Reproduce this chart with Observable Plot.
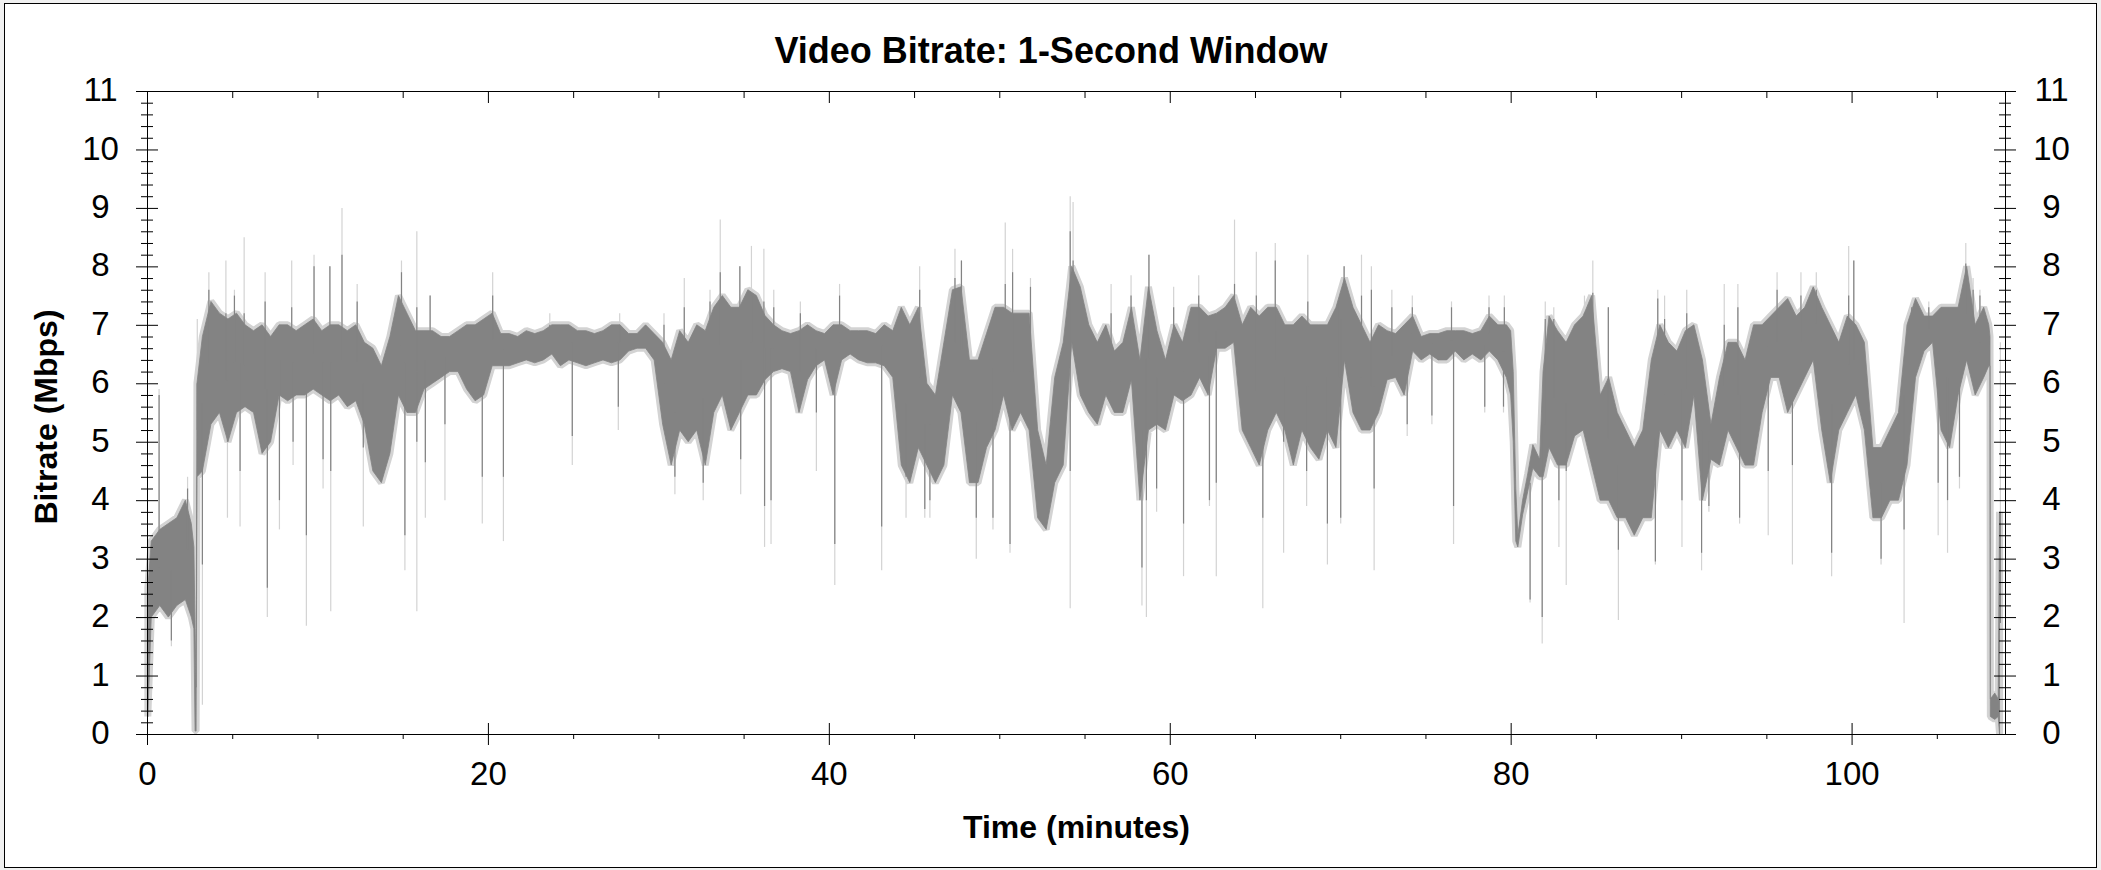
<!DOCTYPE html>
<html><head><meta charset="utf-8">
<script src="https://cdn.jsdelivr.net/npm/d3@7"></script>
<script src="https://cdn.jsdelivr.net/npm/@observablehq/plot@0.6"></script>
<style>
html,body{margin:0;padding:0;background:#f0f0f0;width:2101px;height:870px;overflow:hidden;}
#box{position:absolute;left:4px;top:3px;width:2093px;height:865px;box-sizing:border-box;border:1px solid #000;background:#fff;}
#chart{position:absolute;left:0;top:0;}
</style></head><body><div id="box"></div><div id="chart"></div>
<script>
// ---- data (time in minutes, bitrate in Mbps) ----
const bandT = [0.05,0.25,0.75,1.25,1.75,2.25,2.6,2.75,2.82,2.88,2.93,3.25,3.75,4.25,4.75,5.25,5.75,6.25,6.75,7.25,7.75,8.25,8.75,9.25,9.75,10.25,10.75,11.25,11.75,12.25,12.75,13.25,13.75,14.25,14.75,15.25,15.75,16.25,16.75,17.25,17.75,18.25,18.75,19.25,19.75,20.25,20.75,21.25,21.75,22.25,22.75,23.25,23.75,24.25,24.75,25.25,25.75,26.25,26.75,27.25,27.75,28.25,28.75,29.25,29.75,30.25,30.75,31.25,31.75,32.25,32.75,33.25,33.75,34.25,34.75,35.25,35.75,36.25,36.75,37.25,37.75,38.25,38.75,39.25,39.75,40.25,40.75,41.25,41.75,42.25,42.75,43.25,43.75,44.25,44.75,45.25,45.75,46.25,46.75,47.25,47.75,48.25,48.75,49.25,49.75,50.25,50.75,51.25,51.75,52.25,52.75,53.25,53.75,54.25,54.75,55.25,55.75,56.25,56.75,57.25,57.75,58.25,58.75,59.25,59.75,60.25,60.75,61.25,61.75,62.25,62.75,63.25,63.75,64.25,64.75,65.25,65.75,66.25,66.75,67.25,67.75,68.25,68.75,69.25,69.75,70.25,70.75,71.25,71.75,72.25,72.75,73.25,73.75,74.25,74.75,75.25,75.75,76.25,76.75,77.25,77.75,78.25,78.75,79.25,79.75,80.0,80.15,80.3,80.42,80.7,81.0,81.3,81.7,81.9,82.25,82.75,83.25,83.75,84.25,84.75,85.25,85.75,86.25,86.75,87.25,87.75,88.25,88.75,89.25,89.75,90.25,90.75,91.25,91.75,92.25,92.75,93.25,93.75,94.25,94.75,95.25,95.75,96.25,96.75,97.25,97.75,98.25,98.75,99.25,99.75,100.25,100.75,101.25,101.75,102.25,102.75,103.25,103.75,104.25,104.75,105.25,105.75,106.25,106.75,107.25,107.75,108.05,108.12,108.14,108.4,108.6,108.68];
const bandLo = [0.3,2.0,2.2,2.0,2.2,2.3,2.0,1.8,0.05,0.05,4.4,4.5,5.3,5.5,5.0,5.5,5.6,5.5,4.8,5.0,5.8,5.7,5.8,5.8,5.9,5.8,5.7,5.8,5.6,5.7,5.3,4.5,4.3,4.8,5.8,5.5,5.5,5.9,6.0,6.1,6.2,6.2,5.9,5.7,5.8,6.3,6.3,6.3,6.35,6.4,6.35,6.4,6.5,6.3,6.4,6.35,6.3,6.35,6.4,6.35,6.4,6.55,6.6,6.6,6.4,5.3,4.6,5.2,5.0,5.2,4.6,5.5,5.8,5.2,5.5,5.8,5.8,6.06,6.2,6.25,6.2,5.5,6.06,6.3,6.4,5.8,6.4,6.5,6.4,6.35,6.35,6.3,6.1,4.6,4.3,4.9,4.6,4.3,4.6,5.8,5.5,4.3,4.3,4.9,5.2,5.8,5.2,5.5,5.2,3.7,3.5,4.3,4.6,6.7,5.8,5.5,5.3,5.8,5.5,5.5,6.06,4.0,5.2,5.3,5.2,5.8,5.7,5.8,6.1,5.8,6.6,6.6,6.7,5.2,4.9,4.6,5.2,5.5,5.2,4.6,5.2,4.9,4.7,5.2,4.9,6.4,5.5,5.2,5.2,5.5,6.06,6.1,5.8,6.55,6.4,6.5,6.4,6.4,6.55,6.4,6.5,6.4,6.55,6.4,6.1,5.8,5.0,3.3,3.2,3.75,4.15,4.55,4.4,4.4,4.9,4.6,4.6,5.1,5.2,4.6,4.0,4.0,3.7,3.7,3.4,3.7,3.7,5.2,4.9,5.2,4.9,5.8,4.0,4.7,4.6,5.2,4.9,4.6,4.6,5.5,6.1,6.1,5.5,5.8,6.1,6.4,5.2,4.3,5.2,5.5,5.8,5.2,3.7,3.7,4.0,4.0,4.6,6.1,6.55,6.7,5.2,4.9,5.8,6.4,5.8,6.1,6.3,6.3,0.3,0.25,0.3,0.0];
const bandHi = [2.5,3.3,3.5,3.6,3.7,4.0,3.6,3.2,1.8,0.8,6.0,6.8,7.4,7.2,7.1,7.2,7.0,6.9,7.0,6.8,7.0,7.0,6.9,7.0,7.1,6.9,7.0,7.0,6.9,7.0,6.7,6.6,6.3,6.8,7.5,7.2,6.9,6.9,6.9,6.8,6.8,6.9,7.0,7.0,7.1,7.2,6.85,6.85,6.8,6.9,6.85,6.9,7.0,7.0,7.0,6.9,6.9,6.85,6.9,7.0,7.0,6.85,6.85,7.0,6.85,6.7,6.4,6.9,6.7,7.0,6.9,7.3,7.5,7.3,7.3,7.6,7.5,7.16,7.0,6.9,6.85,6.9,7.0,6.9,6.85,7.0,7.0,6.9,6.9,6.9,6.85,7.0,6.9,7.3,7.0,7.3,6.0,5.8,6.7,7.6,7.65,6.4,6.4,6.85,7.3,7.3,7.2,7.2,7.2,5.2,4.6,6.1,6.7,8.0,7.65,7.0,6.7,7.0,6.55,6.7,7.3,6.4,7.65,6.9,6.4,7.0,6.7,7.3,7.3,7.15,7.2,7.3,7.5,7.0,7.3,7.15,7.3,7.3,7.0,7.0,7.15,7.0,7.0,7.0,7.3,7.8,7.3,7.0,6.7,7.0,6.9,6.85,7.0,7.15,6.8,6.85,6.85,6.9,6.9,6.9,6.85,6.9,7.15,7.0,7.0,6.9,6.2,4.2,3.4,4.0,4.45,4.95,4.7,6.2,7.15,6.9,6.7,7.0,7.15,7.5,5.8,6.1,5.5,5.2,4.9,5.2,6.4,7.0,6.7,6.55,6.9,7.0,6.4,5.3,6.1,6.7,6.7,6.4,7.0,7.0,7.15,7.3,7.45,7.15,7.3,7.65,7.3,7.0,6.7,7.15,7.0,6.7,4.9,4.9,5.2,5.5,7.0,7.45,7.15,7.15,7.3,7.3,7.3,8.0,7.0,7.3,7.0,6.8,0.6,0.7,0.6,3.8];

// isolated spikes: time, end of dark part, end of light part
const upT     = [0.68,2.35,2.92,3.6,4.6,5.1,5.67,6.9,8.46,9.77,10.7,11.41,12.3,14.9,15.8,16.58,20.25,23.6,27.7,30.3,31.49,33.0,33.6,34.75,35.43,36.16,36.74,38.3,40.6,45.3,47.37,47.75,50.32,50.75,51.8,54.13,54.3,56.53,57.7,58.75,60.2,61.67,63.77,65.05,66.16,68.07,69.9,70.2,71.22,71.8,73.0,74.2,76.5,78.7,79.6,82.0,82.5,84.3,84.79,85.7,88.6,89.0,90.3,92.5,93.3,95.6,97.0,97.9,99.8,100.1,103.5,104.5,106.67,107.1,107.5,108.7];
const upDark  = [5.8,4.2,6.0,7.6,7.2,7.5,7.2,7.4,7.3,8.0,8.0,8.2,7.4,7.9,7.3,7.5,7.5,7.0,7.0,7.0,7.3,7.4,7.9,8.0,7.5,7.4,7.3,7.2,7.5,7.6,7.8,8.1,7.7,7.9,7.65,8.6,8.1,7.2,7.5,8.2,7.3,7.5,7.7,7.5,8.1,7.4,7.4,8.0,7.5,7.6,7.3,7.3,7.3,7.3,7.3,7.1,7.1,7.2,7.55,7.3,7.45,7.1,7.2,7.0,7.3,7.6,7.5,7.6,7.5,8.1,7.3,7.3,8.05,7.6,7.5,3.8];
const upLight = [5.9,4.4,7.1,7.9,8.1,7.6,8.5,7.9,8.1,8.2,8.0,9.0,7.7,8.1,8.6,7.5,7.9,7.2,7.2,7.2,7.8,7.6,8.8,8.0,8.35,8.3,7.6,7.4,7.7,8.0,8.3,8.1,8.75,8.3,7.8,9.2,9.1,7.7,7.85,8.2,7.65,7.85,8.8,8.25,8.4,8.2,7.5,8.0,8.2,8.0,7.6,7.5,7.4,7.5,7.5,7.4,7.3,7.5,8.1,7.3,7.6,7.5,7.6,7.7,7.7,7.9,7.9,7.9,8.35,8.1,7.4,7.4,8.4,7.8,7.6,6.7];
const downT     = [1.4,3.22,4.69,5.43,7.03,7.74,8.54,9.32,10.3,10.75,12.66,15.1,15.8,16.3,17.45,19.64,20.88,24.92,27.62,30.94,32.6,34.8,36.2,36.58,39.24,40.32,43.07,44.5,45.6,45.9,48.62,49.6,50.6,54.13,58.34,58.6,59.2,60.78,62.3,62.7,65.43,66.65,68.0,69.22,70.0,71.96,73.9,75.35,76.62,78.45,79.55,81.11,81.82,82.8,83.23,86.29,88.46,90.02,91.17,91.6,93.4,95.08,96.5,98.8,101.7,103.05,105.05,105.6,106.3];
const downDark  = [1.6,2.9,5.0,4.5,2.5,4.0,5.0,3.4,4.7,4.5,4.9,3.4,5.0,4.65,5.3,4.4,4.4,5.1,5.6,4.4,4.3,4.7,3.9,4.0,5.5,3.25,3.55,4.4,3.85,4.0,3.7,3.7,3.25,4.5,2.85,4.0,4.2,3.6,4.0,4.3,3.7,5.0,4.5,3.6,3.7,4.2,5.3,5.45,3.9,5.6,5.6,2.3,2.0,4.0,4.5,3.15,2.95,4.0,3.1,3.9,3.7,4.5,4.6,3.1,3.0,3.5,4.3,4.0,4.4];
const downLight = [1.5,0.5,3.7,3.55,2.0,3.5,4.6,1.85,4.2,2.1,3.55,2.8,2.1,3.7,4.0,3.6,3.3,4.6,5.2,4.1,4.0,4.1,3.2,3.25,4.5,2.55,2.8,3.7,3.7,3.7,3.0,3.5,3.1,2.15,2.2,2.0,3.8,2.7,3.9,2.7,2.15,3.1,3.9,2.9,3.6,2.8,5.1,5.3,3.25,5.5,5.5,2.25,1.55,3.2,2.55,1.95,2.9,3.2,2.8,3.8,3.6,3.4,2.9,2.7,2.9,1.9,3.4,3.1,4.2];

// axis ticks and labels
const xMajor = [0, 20, 40, 60, 80, 100];
const xMinor = [5, 10, 15, 25, 30, 35, 45, 50, 55, 65, 70, 75, 85, 90, 95, 105];
const yMajor = [0, 1, 2, 3, 4, 5, 6, 7, 8, 9, 10, 11];
const yMinor = d3.range(0, 55).filter(i => i % 5 !== 0).map(i => i / 5);

const titleText = "Video Bitrate: 1-Second Window";
const xLabel = "Time (minutes)";
const yLabel = "Bitrate (Mbps)";

// ---- build tables ----
const band = bandT.map((t, i) => ({t, lo: bandLo[i], hi: bandHi[i]}));
function baseAt(t) {
  let i = d3.bisectLeft(bandT, t);
  if (i >= bandT.length) i = bandT.length - 1;
  if (i > 0 && Math.abs(bandT[i - 1] - t) < Math.abs(bandT[i] - t)) i = i - 1;
  return (bandLo[i] + bandHi[i]) / 2;
}
const ups = upT.map((t, i) => ({t, base: baseAt(t), dark: upDark[i], light: upLight[i]}));
const downs = downT.map((t, i) => ({t, base: baseAt(t), dark: downDark[i], light: downLight[i]}));

const W = 2101, H = 870, mL = 147, mR = 96, mT = 91, mB = 136;
const pw = W - mL - mR, ph = H - mT - mB;
const font = "'Liberation Sans', Arial, sans-serif";
const DARK = "#838383", LIGHT = "#d3d3d3";

const chart = Plot.plot({
  width: W, height: H,
  marginLeft: mL, marginRight: mR, marginTop: mT, marginBottom: mB,
  x: {domain: [0, 109], axis: null},
  y: {domain: [0, 11], axis: null},
  style: {background: "transparent", fontFamily: font, color: "#000"},
  marks: [
    Plot.ruleX(ups, {x: "t", y1: "base", y2: "light", stroke: LIGHT, strokeWidth: 1.2}),
    Plot.ruleX(downs, {x: "t", y1: "base", y2: "light", stroke: LIGHT, strokeWidth: 1.2}),
    // light fringe around the dense band
    Plot.areaY(band, {x: "t", y1: "lo", y2: "hi", fill: LIGHT, stroke: LIGHT, strokeWidth: 7, strokeLinejoin: "miter"}),
    Plot.areaY(band, {x: "t", y1: "lo", y2: "hi", fill: DARK, stroke: DARK, strokeWidth: 0.8}),
    Plot.ruleX(ups, {x: "t", y1: "base", y2: "dark", stroke: DARK, strokeWidth: 1.2}),
    Plot.ruleX(downs, {x: "t", y1: "base", y2: "dark", stroke: DARK, strokeWidth: 1.2}),
    Plot.frame({stroke: "#000", strokeWidth: 1}),
    // left axis ticks
    Plot.tickY(yMajor, {y: d => d, insetRight: pw - 22, dx: -11, stroke: "#000"}),
    Plot.tickY(yMinor, {y: d => d, insetRight: pw - 12, dx: -6, stroke: "#000"}),
    // right axis ticks
    Plot.tickY(yMajor, {y: d => d, insetLeft: pw - 22, dx: 11, stroke: "#000"}),
    Plot.tickY(yMinor, {y: d => d, insetLeft: pw - 12, dx: 6, stroke: "#000"}),
    // bottom axis ticks
    Plot.tickX(xMajor, {x: d => d, insetTop: ph - 22, dy: 11, stroke: "#000"}),
    Plot.tickX(xMinor, {x: d => d, insetTop: ph - 5, dy: 5, stroke: "#000"}),
    // top axis ticks
    Plot.tickX(xMajor, {x: d => d, insetBottom: ph - 12, stroke: "#000"}),
    Plot.tickX(xMinor, {x: d => d, insetBottom: ph - 7, stroke: "#000"}),
    // tick labels
    Plot.text(yMajor, {y: d => d, text: d => String(d), frameAnchor: "left", dx: -47, dy: -1, textAnchor: "middle", lineAnchor: "middle", fontSize: 33, fontFamily: font, fill: "#000"}),
    Plot.text(yMajor, {y: d => d, text: d => String(d), frameAnchor: "right", dx: 46, dy: -1, textAnchor: "middle", lineAnchor: "middle", fontSize: 33, fontFamily: font, fill: "#000"}),
    Plot.text(xMajor, {x: d => d, text: d => String(d), frameAnchor: "bottom", dy: 50, textAnchor: "middle", lineAnchor: "bottom", fontSize: 33, fontFamily: font, fill: "#000"}),
    // titles
    Plot.text([titleText], {text: d => d, frameAnchor: "top", dx: -25.5, dy: -29, textAnchor: "middle", lineAnchor: "bottom", fontSize: 36, fontWeight: "bold", fontFamily: font, fill: "#000"}),
    Plot.text([xLabel], {text: d => d, frameAnchor: "bottom", dy: 103, textAnchor: "middle", lineAnchor: "bottom", fontSize: 32, fontWeight: "bold", fontFamily: font, fill: "#000"}),
    Plot.text([yLabel], {text: d => d, frameAnchor: "left", dx: -91, dy: 4, rotate: -90, textAnchor: "middle", lineAnchor: "bottom", fontSize: 32, fontWeight: "bold", fontFamily: font, fill: "#000"})
  ]
});
document.getElementById("chart").appendChild(chart);
</script>
</body></html>
